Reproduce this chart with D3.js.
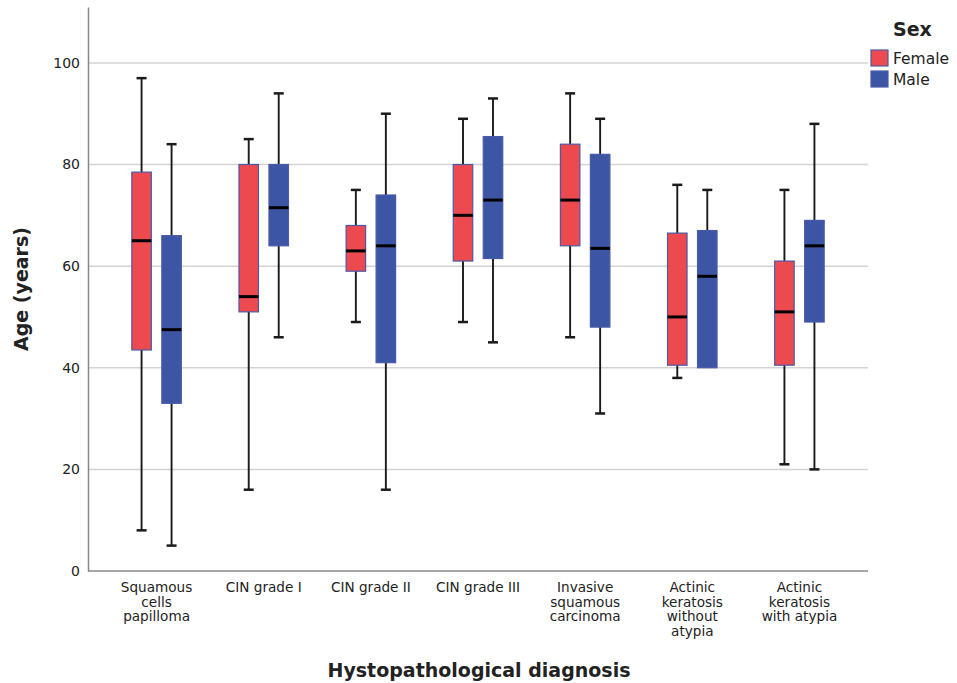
<!DOCTYPE html>
<html>
<head>
<meta charset="utf-8">
<script src="https://cdn.jsdelivr.net/npm/d3@7"></script>
<style>
  body { margin: 0; background: #fff; }
  text { font-family: "DejaVu Sans", sans-serif; fill: #222; }
</style>
</head>
<body>
<div id="chart"></div>
<script>
// categories along the x axis (each label split into lines)
const categories = [
  ["Squamous", "cells", "papilloma"],
  ["CIN grade I"],
  ["CIN grade II"],
  ["CIN grade III"],
  ["Invasive", "squamous", "carcinoma"],
  ["Actinic", "keratosis", "without", "atypia"],
  ["Actinic", "keratosis", "with atypia"]
];
const sexes = ["Female", "Male"];

// [min, q1, median, q3, max] per category
const femaleBoxes = [
  [8, 43.5, 65, 78.5, 97],
  [16, 51, 54, 80, 85],
  [49, 59, 63, 68, 75],
  [49, 61, 70, 80, 89],
  [46, 64, 73, 84, 94],
  [38, 40.5, 50, 66.5, 76],
  [21, 40.5, 51, 61, 75]
];
const maleBoxes = [
  [5, 33, 47.5, 66, 84],
  [46, 64, 71.5, 80, 94],
  [16, 41, 64, 74, 90],
  [45, 61.5, 73, 85.5, 93],
  [31, 48, 63.5, 82, 89],
  [40, 40, 58, 67, 75],
  [20, 49, 64, 69, 88]
];
const yTicks = [0, 20, 40, 60, 80, 100];

const width = 957, height = 683;
const plot = {left: 88, right: 868, top: 7, bottom: 571};

const svg = d3.select("#chart").append("svg")
  .attr("width", width)
  .attr("height", height);

const xScale = d3.scaleBand()
  .domain(d3.range(categories.length))
  .range([103, 853]);
const sexScale = d3.scalePoint().domain(sexes).range([-15, 15]);
const yScale = d3.scaleLinear().domain([0, 111]).range([plot.bottom, plot.top]);
const colors = d3.scaleOrdinal().domain(sexes).range(["#ec4a4e", "#3c56a5"]);
const boxWidth = 19.5;
const capWidth = 10;

// grid lines
svg.append("g")
  .selectAll("line")
  .data(yTicks.filter(d => d > 0))
  .join("line")
  .attr("x1", plot.left).attr("x2", plot.right)
  .attr("y1", d => yScale(d)).attr("y2", d => yScale(d))
  .attr("stroke", "#d3d3d3")
  .attr("stroke-width", 1.5);

// y axis
const yAxisG = svg.append("g")
  .attr("transform", "translate(" + plot.left + ",0)")
  .call(d3.axisLeft(yScale).tickValues(yTicks).tickSize(0).tickPadding(8));
yAxisG.select(".domain").attr("stroke", "#888").attr("stroke-width", 1.5);
yAxisG.selectAll("text")
  .style("font-family", "DejaVu Sans")
  .style("font-size", "14px")
  .attr("fill", "#222");

// bottom line
svg.append("line")
  .attr("x1", plot.left).attr("x2", plot.right)
  .attr("y1", plot.bottom).attr("y2", plot.bottom)
  .attr("stroke", "#888").attr("stroke-width", 1.5);

// boxes
const boxData = [];
categories.forEach((c, i) => {
  boxData.push({cat: i, sex: "Female", v: femaleBoxes[i]});
  boxData.push({cat: i, sex: "Male", v: maleBoxes[i]});
});

const boxG = svg.append("g").selectAll(".boxG")
  .data(boxData)
  .join("g")
  .attr("class", "boxG")
  .attr("transform", d => "translate(" + (xScale(d.cat) + xScale.bandwidth() / 2 + sexScale(d.sex)) + ",0)");

// whiskers
boxG.append("line")
  .attr("x1", 0).attr("x2", 0)
  .attr("y1", d => yScale(d.v[0])).attr("y2", d => yScale(d.v[4]))
  .attr("stroke", "#1a1a1a").attr("stroke-width", 1.9);
boxG.selectAll(".cap")
  .data(d => [d.v[0], d.v[4]].filter(v => v !== d.v[1] || v === d.v[4]).map(v => ({v: v, d: d})))
  .join("line")
  .attr("class", "cap")
  .attr("x1", -capWidth / 2).attr("x2", capWidth / 2)
  .attr("y1", c => yScale(c.v)).attr("y2", c => yScale(c.v))
  .attr("stroke", "#1a1a1a").attr("stroke-width", 2.5);

boxG.append("rect")
  .attr("x", -boxWidth / 2)
  .attr("width", boxWidth)
  .attr("y", d => yScale(d.v[3]))
  .attr("height", d => yScale(d.v[1]) - yScale(d.v[3]))
  .attr("fill", d => colors(d.sex))
  .attr("stroke", "#4b5aa8")
  .attr("stroke-width", 1.2);

boxG.append("line")
  .attr("x1", -boxWidth / 2).attr("x2", boxWidth / 2)
  .attr("y1", d => yScale(d.v[2])).attr("y2", d => yScale(d.v[2]))
  .attr("stroke", "#000").attr("stroke-width", 3);

// category labels
const catG = svg.append("g").selectAll("text")
  .data(categories)
  .join("text")
  .attr("text-anchor", "middle")
  .attr("transform", (d, i) => "translate(" + (xScale(i) + xScale.bandwidth() / 2) + ",592)")
  .style("font-size", "13.6px");
catG.selectAll("tspan")
  .data(d => d)
  .join("tspan")
  .attr("x", 0)
  .attr("y", (d, i) => i * 14.7)
  .text(d => d);

// axis titles
svg.append("text")
  .attr("transform", "translate(28," + yScale(55.5) + ") rotate(-90)")
  .attr("text-anchor", "middle")
  .style("font-size", "19px")
  .style("font-weight", "bold")
  .text("Age (years)");

svg.append("text")
  .attr("x", 479)
  .attr("y", 677)
  .attr("text-anchor", "middle")
  .style("font-size", "19px")
  .style("font-weight", "bold")
  .text("Hystopathological diagnosis");

// legend
const legend = svg.append("g").attr("transform", "translate(871,0)");
legend.append("text")
  .attr("x", 22).attr("y", 36)
  .style("font-size", "19px")
  .style("font-weight", "bold")
  .text("Sex");
const legItem = legend.selectAll(".legItem")
  .data(sexes)
  .join("g")
  .attr("class", "legItem")
  .attr("transform", (d, i) => "translate(0," + (50 + i * 21) + ")");
legItem.append("rect")
  .attr("width", 17).attr("height", 16)
  .attr("fill", d => colors(d))
  .attr("stroke", "#4b5aa8").attr("stroke-width", 1.2);
legItem.append("text")
  .attr("x", 22).attr("y", 14)
  .style("font-size", "15.5px")
  .text(d => d);
</script>
</body>
</html>
